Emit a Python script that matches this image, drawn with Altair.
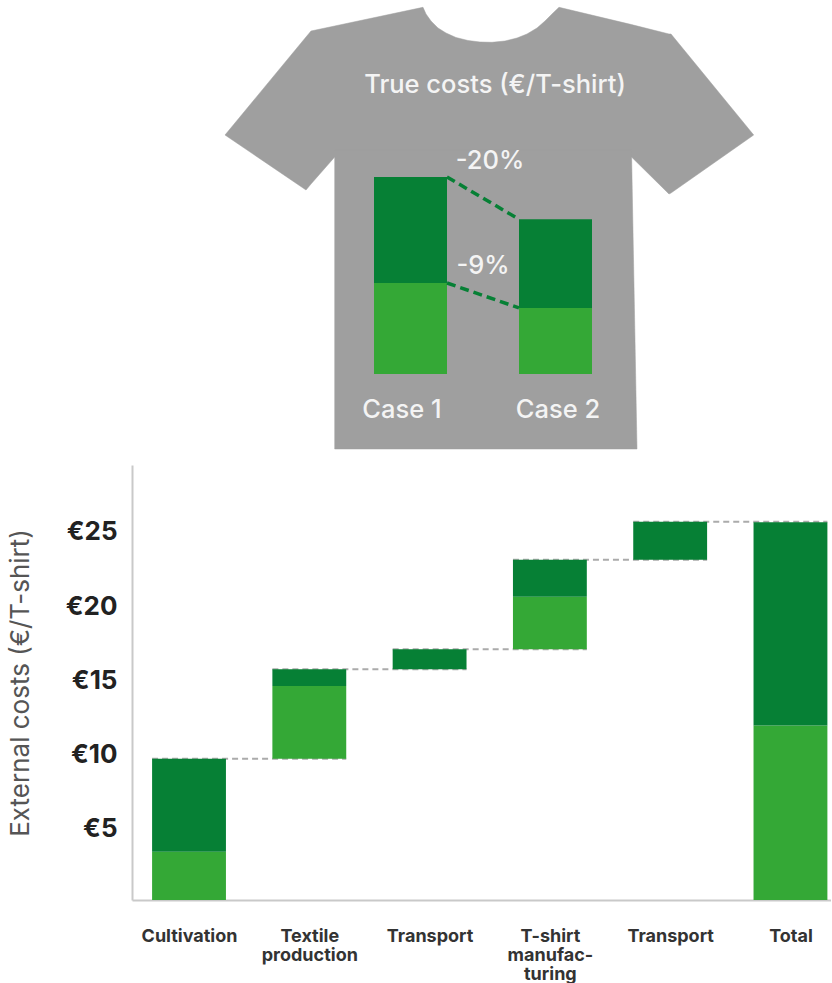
import json
import altair as alt
import pandas as pd

# External cost per production stage (EUR per T-shirt)
stages = ["Cultivation", ["Textile", "production"], "Transport",
          ["T-shirt", "manufac-", "turing"], "Transport", "Total"]
light_costs = [3.45, 4.90, 0.0, 3.53, 0.0, 11.95]
dark_costs = [6.27, 1.12, 1.35, 2.49, 2.56, 13.70]

# Case comparison inside the shirt (EUR per T-shirt)
case_light = [11.85, 8.6]
case_dark = [13.8, 11.55]
case_x_start = [374, 519]
case_x_end = [447, 592]
changes = [("-20%", 490, 161), ("-9%", 483, 266)]
shirt_labels = [("True costs (€/T-shirt)", 495, 85), ("Case 1", 402, 410), ("Case 2", 558, 410)]

# Shirt outline: x, upper edge, lower edge
shirt_yoke = [
    (225, 135, 135), (306, 37, 190), (311, 31, 184), (334.7, 26, 157),
    (423, 7.3, 157), (426, 14, 157), (431, 21, 157), (438, 28, 157), (446, 33, 157),
    (456, 37.5, 157), (468, 40.5, 157), (480, 42, 157), (492, 42.3, 157), (505, 41, 157),
    (517, 38, 157), (527, 34, 157), (537, 28, 157), (545, 21, 157), (553, 13, 157),
    (559, 7.3, 157), (631.5, 24.6, 157), (669, 34, 194), (671, 34, 193),
    (753.7, 135, 135),
]
shirt_body = [(334.7, 150, 449), (631.5, 150, 449), (637, 449, 449)]

DARK = "#068035"
LIGHT = "#34A836"
SHIRT = "#9F9F9F"
TEXT_FONT = "Inter"
HALF = 0.307

# Waterfall segments
rows, links = [], []
running = 0.0
for i, (lo, hi) in enumerate(zip(light_costs, dark_costs)):
    base = 0.0 if i == 5 else running
    if lo > 0:
        rows.append(dict(x=i - HALF, x2=i + HALF, y=base, y2=base + lo, part="light"))
    rows.append(dict(x=i - HALF, x2=i + HALF, y=base + lo, y2=base + lo + hi, part="dark"))
    running = base + lo + hi
    if i < 5:
        links.append(dict(x=i - HALF, x2=i + 1 + HALF, y=running))
rows_df = pd.DataFrame(rows)
links_df = pd.DataFrame(links)

part_color = alt.Color("part:N", scale=alt.Scale(domain=["light", "dark"], range=[LIGHT, DARK]), legend=None)

x_wf = alt.X("x:Q", scale=alt.Scale(domain=[-0.474, 5.337], nice=False, zero=False),
             axis=alt.Axis(values=list(range(6)), title=None, ticks=False, grid=False,
                           domainColor="#c9c9c9", domainWidth=2,
                           labelExpr=json.dumps(stages) + "[datum.value]",
                           labelFont=TEXT_FONT, labelFontSize=18, labelFontWeight=700,
                           labelColor="#333333", labelLineHeight=19, labelPadding=36,
                           labelOverlap=False, labelBaseline="middle", labelAngle=0))
y_wf = alt.Y("y:Q", scale=alt.Scale(domain=[0.2, 29.5], nice=False, zero=False, clamp=True),
             axis=alt.Axis(values=[5, 10, 15, 20, 25], grid=False, ticks=False,
                           title="External costs (€/T-shirt)",
                           titleFont=TEXT_FONT, titleFontSize=26, titleFontWeight=400,
                           titleColor="#555555", titlePadding=32,
                           domainColor="#c9c9c9", domainWidth=2,
                           labelExpr="'€' + datum.value",
                           labelFont=TEXT_FONT, labelFontSize=26, labelFontWeight=700,
                           labelColor="#222222", labelPadding=15))

link_layer = alt.Chart(links_df).mark_rule(color="#ababab", strokeWidth=2, strokeDash=[6, 4]).encode(
    x=x_wf, x2="x2:Q", y=y_wf)
bar_layer = alt.Chart(rows_df).mark_rect().encode(x=x_wf, x2="x2:Q", y=y_wf, y2="y2:Q", color=part_color)
waterfall = alt.layer(link_layer, bar_layer).properties(width=699, height=435)

# Shirt drawing, in its own drawing units
x_draw = alt.Scale(domain=[132, 831], nice=False, zero=False)
y_draw = alt.Scale(domain=[449, 0], nice=False, zero=False)


def shirt_part(points):
    return alt.Chart(pd.DataFrame(points, columns=["x", "top", "bottom"])).mark_area(
        fill=SHIRT, stroke=SHIRT, strokeWidth=0.5, opacity=1
    ).encode(
        x=alt.X("x:Q", scale=x_draw, axis=None),
        y=alt.Y("top:Q", scale=y_draw, axis=None),
        y2=alt.Y2("bottom:Q"),
    )


text_df = pd.DataFrame(shirt_labels + changes, columns=["text", "x", "y"])
texts = alt.Chart(text_df).mark_text(font=TEXT_FONT, fontSize=25.5, fontWeight=500, color="#f4f4f4",
                                     align="center", baseline="middle").encode(
    x=alt.X("x:Q", scale=x_draw, axis=None),
    y=alt.Y("y:Q", scale=y_draw, axis=None),
    text="text:N",
)

# Case bars share one cost scale whose zero sits at the bar foot
y_cost = alt.Scale(domain=[-9.77, 48.7], nice=False, zero=False)
case_rows = []
for sx, ex, lo, hi in zip(case_x_start, case_x_end, case_light, case_dark):
    case_rows.append(dict(x=sx, x2=ex, y=0, y2=lo, part="light"))
    case_rows.append(dict(x=sx, x2=ex, y=lo, y2=lo + hi, part="dark"))
case_df = pd.DataFrame(case_rows)
case_bars = alt.Chart(case_df).mark_rect().encode(
    x=alt.X("x:Q", scale=x_draw, axis=None), x2="x2:Q",
    y=alt.Y("y:Q", scale=y_cost, axis=None), y2="y2:Q",
    color=part_color,
)
dash_rows = []
for name, vals in (("total", [case_light[i] + case_dark[i] for i in range(2)]), ("split", case_light)):
    dash_rows.append(dict(x=case_x_end[0], y=vals[0], line=name))
    dash_rows.append(dict(x=case_x_start[1], y=vals[1], line=name))
case_lines = alt.Chart(pd.DataFrame(dash_rows)).mark_line(color=DARK, strokeWidth=3.5, strokeDash=[9, 5]).encode(
    x=alt.X("x:Q", scale=x_draw, axis=None),
    y=alt.Y("y:Q", scale=y_cost, axis=None),
    detail="line:N",
)

drawing = alt.layer(
    shirt_part(shirt_yoke), shirt_part(shirt_body), texts, case_bars, case_lines
).resolve_scale(y="independent").properties(width=699, height=449)

chart = alt.vconcat(drawing, waterfall, spacing=15).resolve_scale(color="independent").properties(
    padding={"left": 7, "top": 0, "right": 0, "bottom": 0}, background="white"
).configure_view(stroke=None)

chart.save("out.html", embed_options={"renderer": "svg", "actions": False})
